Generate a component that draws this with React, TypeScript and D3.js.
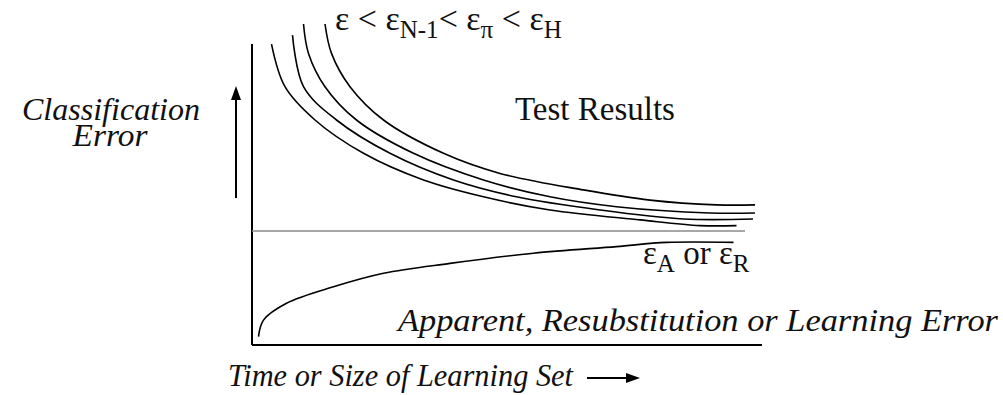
import React from "react";
import * as d3 from "d3";

// Test-error curves (time / learning-set size vs classification error), in chart units
const testErrE: [number, number][] = [
  [3.9, 100.3], [6.6, 86.1], [12.6, 75], [22.3, 63.9], [34.3, 55],
  [46.3, 49.4], [59.6, 45], [77.6, 41.7], [89.6, 39.8], [96.9, 39.8],
];
const testErrN1: [number, number][] = [
  [8.1, 103.3], [10.3, 86.1], [16.9, 75], [27.6, 63.9], [40.3, 55],
  [52.9, 49.4], [69.6, 45], [86.3, 42], [100.2, 42],
];
const testErrPi: [number, number][] = [
  [10.3, 107], [11.3, 97.2], [14.6, 86.1], [20.9, 75], [32.3, 63.9],
  [46.3, 55], [59.6, 49.4], [72.9, 46.1], [91.6, 44], [100.6, 44],
];
const testErrH: [number, number][] = [
  [14.6, 107], [15.9, 97.2], [19.6, 86.1], [26.3, 75], [38.3, 63.9],
  [49.6, 57.2], [66.3, 51.7], [79.6, 48.3], [92.9, 46.7], [100.6, 46.7],
];
// Apparent (resubstitution) error curve
const apparentErr: [number, number][] = [
  [1.3, 2.8], [2.3, 8.3], [6.9, 13.9], [16.3, 19.4], [26.3, 23.9],
  [39.6, 27.2], [56.3, 30.6], [72.9, 32.8], [82.9, 34.2], [96.3, 34.2],
];
// Asymptote level and its extent
const asymptote = { level: 38, from: 0, to: 98.6 };
const axisExtent = { xMax: 102, yMax: 100.3 };

const testCurves = [testErrE, testErrN1, testErrPi, testErrH];

const W = 1003;
const H = 395;

export default function App() {
  const x = d3.scaleLinear().domain([0, 100]).range([252, 752]);
  const y = d3.scaleLinear().domain([0, 100]).range([345, 45]);
  const line = d3
    .line<[number, number]>()
    .x((d) => x(d[0]))
    .y((d) => y(d[1]))
    .curve(d3.curveCatmullRom.alpha(0.5));

  return (
    <svg
      width={W}
      height={H}
      style={{ position: "absolute", left: 0, top: 0, background: "#fff" }}
    >
      {/* axes */}
      <line x1={x(0)} x2={x(0)} y1={y(0)} y2={y(axisExtent.yMax)} stroke="#000" strokeWidth={2} />
      <line x1={x(0)} x2={x(axisExtent.xMax)} y1={y(0)} y2={y(0)} stroke="#000" strokeWidth={2} />

      {/* asymptote */}
      <line
        x1={x(asymptote.from)}
        x2={x(asymptote.to)}
        y1={y(asymptote.level)}
        y2={y(asymptote.level)}
        stroke="#8a8a8a"
        strokeWidth={1.6}
      />

      {testCurves.map((c, i) => (
        <path key={i} d={line(c) ?? ""} fill="none" stroke="#000" strokeWidth={1.6} />
      ))}
      <path d={line(apparentErr) ?? ""} fill="none" stroke="#000" strokeWidth={1.6} />

      <g fill="#111">
        {/* curve ordering label */}
        <text x={335} y={30} fontSize={34}>
          ε &lt; ε
          <tspan fontSize={25} dy={8}>N-1</tspan>
          <tspan dy={-8}>&lt; ε</tspan>
          <tspan fontSize={25} dy={8}>π</tspan>
          <tspan dy={-8}> &lt; ε</tspan>
          <tspan fontSize={25} dy={8}>H</tspan>
        </text>

        <text x={515} y={120} fontSize={33}>Test Results</text>

        <text x={643} y={264} fontSize={33}>
          ε
          <tspan fontSize={25} dy={8}>A</tspan>
          <tspan dy={-8}> or ε</tspan>
          <tspan fontSize={25} dy={8}>R</tspan>
        </text>

        <text x={398} y={331} fontSize={31} fontStyle="italic" textLength={600} lengthAdjust="spacingAndGlyphs">
          Apparent, Resubstitution or Learning Error
        </text>

        <text x={228} y={386} fontSize={31} fontStyle="italic" textLength={345} lengthAdjust="spacingAndGlyphs">
          Time or Size of Learning Set
        </text>

        <text x={111} y={120} fontSize={31} fontStyle="italic" textAnchor="middle" textLength={178} lengthAdjust="spacingAndGlyphs">
          Classification
        </text>
        <text x={110} y={146} fontSize={31} fontStyle="italic" textAnchor="middle" textLength={75} lengthAdjust="spacingAndGlyphs">
          Error
        </text>
      </g>

      {/* x direction arrow */}
      <line x1={587} x2={628} y1={378} y2={378} stroke="#000" strokeWidth={2} />
      <path d="M626,373 L640,378 L626,383 Z" fill="#000" />

      {/* y direction arrow */}
      <line x1={236} x2={236} y1={198} y2={96} stroke="#000" strokeWidth={2} />
      <path d="M231,100 L236,86 L241,100 Z" fill="#000" />
    </svg>
  );
}
